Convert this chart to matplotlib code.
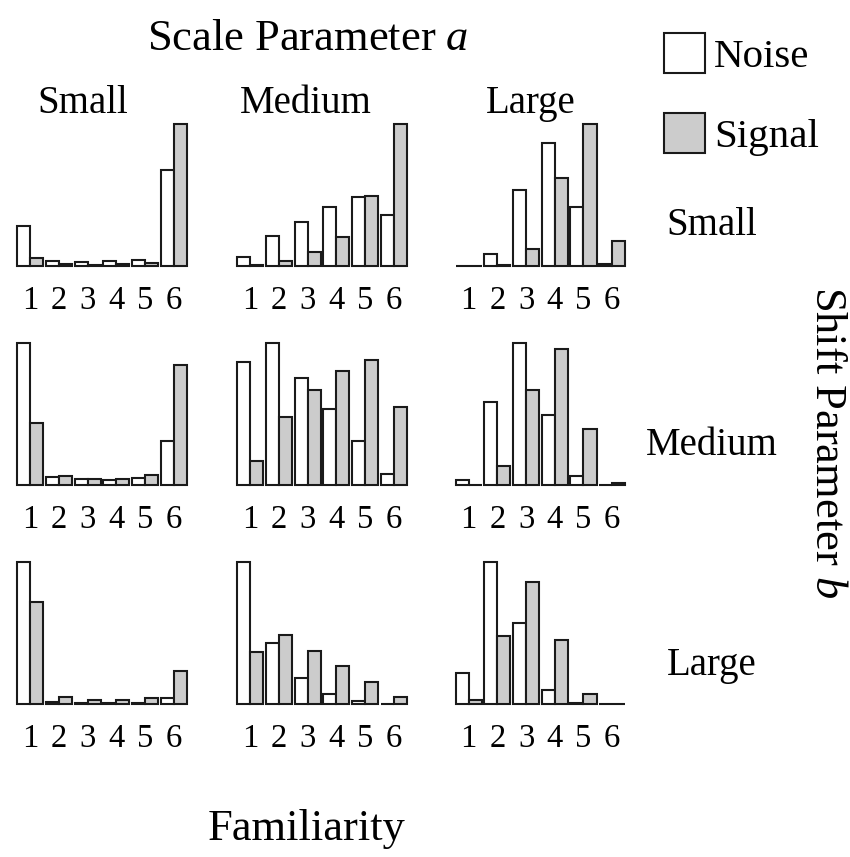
import matplotlib
matplotlib.use("Agg")
import matplotlib.pyplot as plt
from matplotlib.patches import Rectangle
import numpy as np

plt.rcParams['font.family'] = ['Liberation Serif', 'DejaVu Serif']
plt.rcParams['mathtext.fontset'] = 'custom'
plt.rcParams['mathtext.rm'] = 'Liberation Serif'
plt.rcParams['mathtext.it'] = 'Liberation Serif:italic'

# familiarity categories
categories = ['1', '2', '3', '4', '5', '6']
scale_labels = ['Small', 'Medium', 'Large']   # columns (scale a)
shift_labels = ['Small', 'Medium', 'Large']   # rows (shift b)

# relative frequencies, each panel scaled to its own max
# row: shift b = Small; one list per scale column
noise_shift_small = [[0.285, 0.038, 0.030, 0.035, 0.047, 0.680],
                     [0.064, 0.210, 0.310, 0.420, 0.490, 0.360],
                     [0.003, 0.090, 0.540, 0.870, 0.420, 0.015]]
signal_shift_small = [[0.056, 0.019, 0.012, 0.019, 0.024, 1.000],
                      [0.009, 0.035, 0.099, 0.207, 0.496, 1.000],
                      [0.002, 0.008, 0.125, 0.620, 1.000, 0.177]]
# row: shift b = Medium
noise_shift_medium = [[1.000, 0.061, 0.042, 0.038, 0.052, 0.315],
                      [0.866, 1.000, 0.755, 0.539, 0.313, 0.080],
                      [0.035, 0.587, 1.000, 0.493, 0.066, 0.002]]
signal_shift_medium = [[0.440, 0.066, 0.047, 0.047, 0.070, 0.847],
                       [0.169, 0.482, 0.668, 0.807, 0.882, 0.548],
                       [0.002, 0.134, 0.672, 0.960, 0.399, 0.014]]
# row: shift b = Large
noise_shift_large = [[1.000, 0.019, 0.009, 0.007, 0.009, 0.042],
                     [1.000, 0.430, 0.188, 0.070, 0.021, 0.002],
                     [0.218, 1.000, 0.570, 0.103, 0.007, 0.002]]
signal_shift_large = [[0.718, 0.049, 0.033, 0.033, 0.042, 0.235],
                      [0.369, 0.490, 0.373, 0.272, 0.155, 0.049],
                      [0.028, 0.481, 0.859, 0.455, 0.073, 0.002]]

noise_rows = [noise_shift_small, noise_shift_medium, noise_shift_large]
signal_rows = [signal_shift_small, signal_shift_medium, signal_shift_large]

W, H = 850, 857
fig = plt.figure(figsize=(W / 100, H / 100), dpi=100)

edge = '#1a1a1a'
gray = '#cccccc'
bw = 0.453

col_left = [17.3, 237.3, 455.7]
row_top = [124.3, 343.3, 562.3]
ax_w, ax_h = 169.5, 142.0

x = np.arange(len(categories))
for r in range(3):
    for c in range(3):
        ax = fig.add_axes([col_left[c] / W, 1 - (row_top[r] + ax_h) / H,
                           ax_w / W, ax_h / H])
        ax.bar(x - bw / 2, noise_rows[r][c], width=bw, color='white',
               edgecolor=edge, linewidth=1.5, clip_on=False)
        ax.bar(x + bw / 2, signal_rows[r][c], width=bw, color=gray,
               edgecolor=edge, linewidth=1.5, clip_on=False)
        ax.set_xlim(-bw, 5 + bw)
        ax.set_ylim(0, 1)
        ax.set_yticks([])
        ax.set_xticks(x)
        ax.set_xticklabels(categories, fontsize=23.5)
        ax.tick_params(axis='x', length=0, pad=13.5)
        for s in ax.spines.values():
            s.set_visible(False)
        ax.patch.set_alpha(0)

def ftext(px, py, s, **kw):
    fig.text(px / W, 1 - py / H, s, **kw)

ftext(308, 50, 'Scale Parameter $a$', fontsize=32, ha='center', va='baseline')
for lab, cx in zip(scale_labels, [83, 306, 531]):
    ftext(cx, 113, lab, fontsize=28, ha='center', va='baseline')
for lab, cy in zip(shift_labels, [235, 455, 675]):
    ftext(712, cy, lab, fontsize=28, ha='center', va='baseline')
ftext(827, 442, 'Shift Parameter $b$', fontsize=32, ha='center', va='center',
      rotation=-90)
ftext(307, 840, 'Familiarity', fontsize=32, ha='center', va='baseline')

# legend
for (y0, fc, lab) in [(33, 'white', 'Noise'), (113, gray, 'Signal')]:
    fig.patches.append(Rectangle((664 / W, 1 - (y0 + 40) / H), 41 / W, 40 / H,
                                 transform=fig.transFigure, facecolor=fc,
                                 edgecolor=edge, linewidth=1.5))
    ftext(714, y0 + 34, lab, fontsize=29.5, ha='left', va='baseline')

fig.savefig('out.png', dpi=100)
